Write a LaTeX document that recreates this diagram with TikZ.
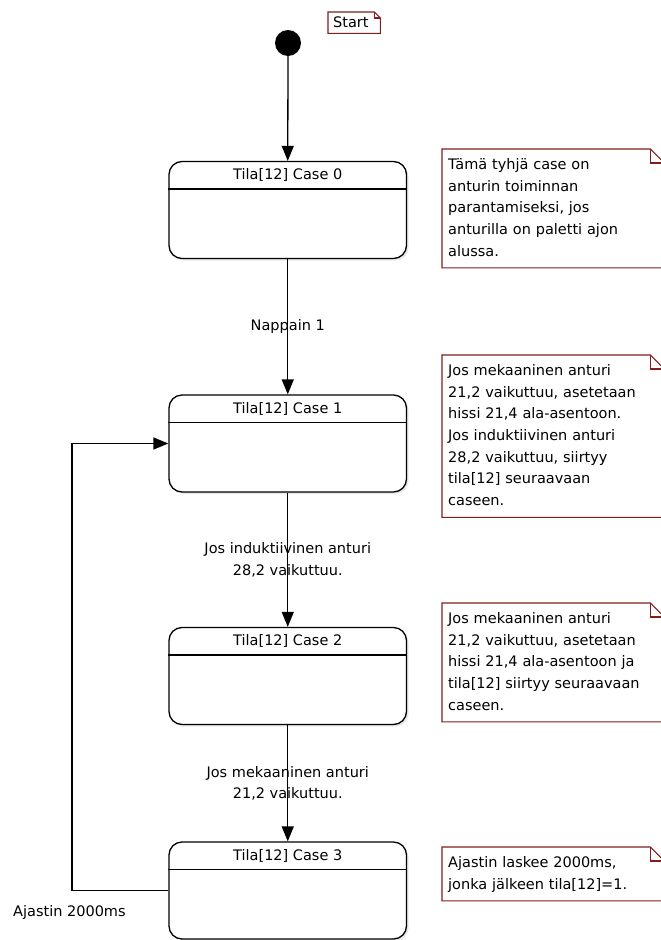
\documentclass[tikz,border=0pt]{standalone}
\usepackage{fontspec}
\setmainfont{DejaVu Sans}
\usetikzlibrary{arrows.meta,calc,shadows}
\definecolor{notered}{RGB}{128,30,30}

% dog-eared outline for a note node: #1 = node name, #2 = fold size
\newcommand\noteoutline[2]{%
  \draw[noteline] (#1.north west) -- ([xshift=-#2]#1.north east)
    -- ([yshift=-#2]#1.north east) -- (#1.south east) -- (#1.south west) -- cycle;
  \draw[noteline] ([xshift=-#2]#1.north east) -- ([xshift=-#2,yshift=-#2]#1.north east)
    -- ([yshift=-#2]#1.north east);
}

\begin{document}
\begin{tikzpicture}[x=1pt,y=-1pt,
  every node/.style={font=\fontsize{14.5}{21.7}\selectfont},
  statebox/.style={draw, line width=1.3pt, rounded corners=13pt,
    minimum width=237.5pt, minimum height=97pt, inner sep=0pt, fill=white,
    drop shadow={shadow xshift=2pt, shadow yshift=-2pt, opacity=0.18}},
  stitle/.style={inner sep=0pt},
  flow/.style={line width=1.3pt, -{Triangle[length=15pt,width=12pt]}},
  elabel/.style={align=center, inner sep=0pt},
  notebox/.style={anchor=north west, align=left, text width=210pt,
    inner xsep=6pt, inner ysep=5pt},
  noteline/.style={draw=notered, line width=1.1pt},
]
\fill[white] (0,0) rectangle (661,940);
\useasboundingbox (0,0) rectangle (661,940);

% initial state and its note
\node[circle, fill=black, minimum size=26pt, inner sep=0pt] (init) at (288,43) {};
\node[anchor=north west, text width=42pt, align=left, inner xsep=5pt,
      minimum height=21pt, inner ysep=0pt] (startnote) at (328,12) {Start};
\noteoutline{startnote}{6pt}

% states
\node[statebox] (s0) at (287.75,210) {};
\node[statebox] (s1) at (287.75,443.5) {};
\node[statebox] (s2) at (287.75,676) {};
\node[statebox] (s3) at (287.75,890.5) {};
\foreach \s/\t in {s0/Tila[12] Case 0, s1/Tila[12] Case 1, s2/Tila[12] Case 2, s3/Tila[12] Case 3}{
  \draw[line width=1.3pt] ([yshift=-28pt]\s.north west) -- ([yshift=-28pt]\s.north east);
  \node[stitle] (\s title) at ([yshift=-14.5pt]\s.north) {\t};
}

% transitions
\draw[flow] (init.south) -- (s0.north);
\draw[flow] (s0.south) -- node[elabel] (l1) {Nappain 1} (s1.north);
\draw[flow] (s1.south) -- node[elabel] (l2) {Jos induktiivinen anturi\\28,2 vaikuttuu.} (s2.north);
\draw[flow] (s2.south) -- node[elabel] (l3) {Jos mekaaninen anturi\\21,2 vaikuttuu.} (s3.north);
\coordinate (loopc) at (72,668);
\draw[flow] (s3.west) -| (loopc) |- (s1.west);
\node[anchor=west, inner sep=0pt] (l4) at (13,912) {Ajastin 2000ms};

% notes
\node[notebox] (n0) at (442,149) {\strut Tämä tyhjä case on\\anturin toiminnan\\parantamiseksi, jos\\anturilla on paletti ajon\\alussa.\strut};
\noteoutline{n0}{14pt}
\node[notebox] (n1) at (442,355) {\strut Jos mekaaninen anturi\\21,2 vaikuttuu, asetetaan\\hissi 21,4 ala-asentoon.\\Jos induktiivinen anturi\\28,2 vaikuttuu, siirtyy\\tila[12] seuraavaan\\caseen.\strut};
\noteoutline{n1}{14pt}
\node[notebox] (n2) at (442,603) {\strut Jos mekaaninen anturi\\21,2 vaikuttuu, asetetaan\\hissi 21,4 ala-asentoon ja\\tila[12] siirtyy seuraavaan\\caseen.\strut};
\noteoutline{n2}{14pt}
\node[notebox] (n3) at (442,847) {\strut Ajastin laskee 2000ms,\\jonka jälkeen tila[12]=1.\strut};
\noteoutline{n3}{14pt}
\end{tikzpicture}
\end{document}
